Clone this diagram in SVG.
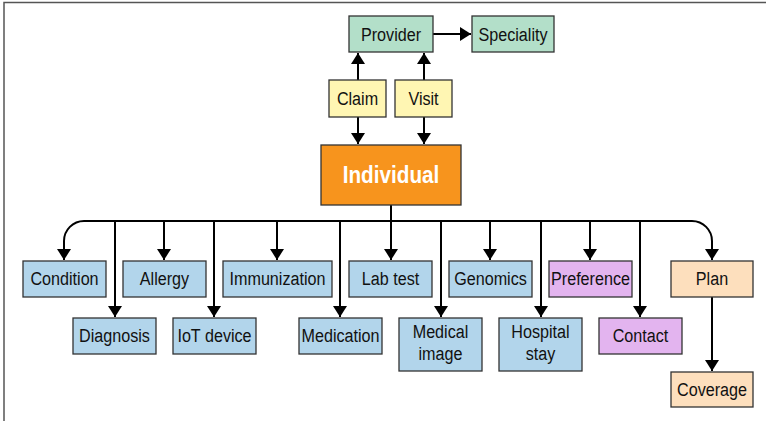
<svg xmlns="http://www.w3.org/2000/svg" width="766" height="421" viewBox="0 0 766 421">
<defs>
<marker id="ah" markerUnits="userSpaceOnUse" markerWidth="12" markerHeight="15" refX="11" refY="7" orient="auto">
<path d="M0,0 L11,7 L0,14 Z" fill="#000"/>
</marker>
<style>
.b{stroke:#333;stroke-width:1.3}
.blue{fill:#B2D5EB}.green{fill:#B3DFC9}.yel{fill:#FFF6B3}.pur{fill:#E3B4EF}.pea{fill:#FDDFBD}.ora{fill:#F7941D}
text{font-family:"Liberation Sans",Arial,sans-serif;font-size:19px;fill:#111;text-anchor:middle}
.big{font-size:23px;font-weight:bold;fill:#fff}
.c path{fill:none;stroke:#000;stroke-width:2}
.ar{marker-end:url(#ah)}
</style>
</defs>
<rect width="766" height="421" fill="#fff"/>
<path d="M4,421 V2.5 H766" fill="none" stroke="#555" stroke-width="1.5"/>
<g class="c" id="connectors">
<path class="ar" d="M433,34 H471"/>
<path class="ar" d="M358,80 V53"/>
<path class="ar" d="M358,117 V144"/>
<path class="ar" d="M424,80 V53"/>
<path class="ar" d="M424,117 V144"/>
<path class="ar" d="M391,205 V260"/>
<path d="M84,221 H692"/>
<path class="ar" d="M84,221 A20,20 0 0 0 64,241 V260"/>
<path class="ar" d="M692,221 A20,20 0 0 1 712,241 V260"/>
<path class="ar" d="M115,221 V317"/>
<path class="ar" d="M164,221 V260"/>
<path class="ar" d="M214,221 V317"/>
<path class="ar" d="M277,221 V260"/>
<path class="ar" d="M340,221 V317"/>
<path class="ar" d="M441,221 V317"/>
<path class="ar" d="M490,221 V260"/>
<path class="ar" d="M541,221 V317"/>
<path class="ar" d="M590,221 V260"/>
<path class="ar" d="M640,221 V317"/>
<path class="ar" d="M712,297 V371"/>
</g>
<g id="provider"><rect class="b green" x="349" y="16" width="84" height="36"/><text transform="translate(391,41) scale(0.85,1)">Provider</text></g>
<g id="speciality"><rect class="b green" x="472" y="16" width="82" height="36"/><text transform="translate(513,41) scale(0.85,1)">Speciality</text></g>
<g id="claim"><rect class="b yel" x="329" y="80" width="57" height="37"/><text transform="translate(357.5,105) scale(0.85,1)">Claim</text></g>
<g id="visit"><rect class="b yel" x="395" y="80" width="57" height="37"/><text transform="translate(423.5,105) scale(0.85,1)">Visit</text></g>
<g id="individual"><rect class="b ora" x="321" y="145" width="140" height="60"/><text class="big" transform="translate(391,183) scale(0.9,1)">Individual</text></g>
<g id="condition"><rect class="b blue" x="23" y="261" width="83" height="36"/><text transform="translate(64.5,285) scale(0.85,1)">Condition</text></g>
<g id="allergy"><rect class="b blue" x="123" y="261" width="83" height="36"/><text transform="translate(164.5,285) scale(0.85,1)">Allergy</text></g>
<g id="immunization"><rect class="b blue" x="223" y="261" width="109" height="36"/><text transform="translate(277.5,285) scale(0.85,1)">Immunization</text></g>
<g id="labtest"><rect class="b blue" x="349" y="261" width="83" height="36"/><text transform="translate(390.5,285) scale(0.85,1)">Lab test</text></g>
<g id="genomics"><rect class="b blue" x="449" y="261" width="83" height="36"/><text transform="translate(490.5,285) scale(0.85,1)">Genomics</text></g>
<g id="preference"><rect class="b pur" x="549" y="261" width="83" height="36"/><text transform="translate(590.5,285) scale(0.85,1)">Preference</text></g>
<g id="plan"><rect class="b pea" x="671" y="261" width="82" height="36"/><text transform="translate(712,285) scale(0.85,1)">Plan</text></g>
<g id="diagnosis"><rect class="b blue" x="73" y="318" width="83" height="36"/><text transform="translate(114.5,342) scale(0.85,1)">Diagnosis</text></g>
<g id="iotdevice"><rect class="b blue" x="173" y="318" width="83" height="36"/><text transform="translate(214.5,342) scale(0.85,1)">IoT device</text></g>
<g id="medication"><rect class="b blue" x="299" y="318" width="83" height="36"/><text transform="translate(340.5,342) scale(0.85,1)">Medication</text></g>
<g id="medicalimage"><rect class="b blue" x="399" y="318" width="83" height="53"/><text transform="translate(440.5,338) scale(0.85,1)">Medical</text><text transform="translate(440.5,360) scale(0.85,1)">image</text></g>
<g id="hospitalstay"><rect class="b blue" x="499" y="318" width="83" height="53"/><text transform="translate(540.5,338) scale(0.85,1)">Hospital</text><text transform="translate(540.5,360) scale(0.85,1)">stay</text></g>
<g id="contact"><rect class="b pur" x="599" y="318" width="83" height="36"/><text transform="translate(640.5,342) scale(0.85,1)">Contact</text></g>
<g id="coverage"><rect class="b pea" x="671" y="372" width="82" height="35"/><text transform="translate(712,396) scale(0.85,1)">Coverage</text></g>
</svg>
